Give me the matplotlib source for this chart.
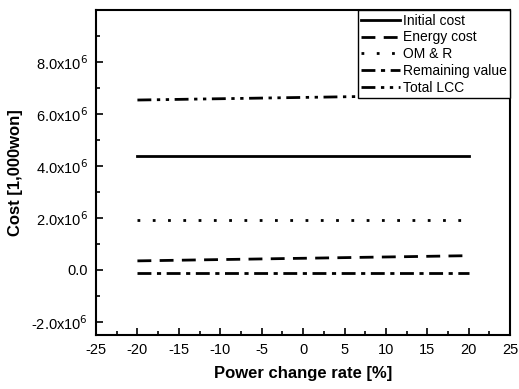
import matplotlib
matplotlib.use("Agg")
import matplotlib.pyplot as plt
from matplotlib.ticker import MultipleLocator, FuncFormatter

plt.rcParams['font.family'] = ['Liberation Sans', 'DejaVu Sans']
plt.rcParams['axes.unicode_minus'] = False

rate = [-20, -17.5, -15, -12.5, -10, -7.5, -5, -2.5, 0, 2.5, 5, 7.5, 10, 12.5, 15, 17.5, 20]
initial = [4.40e6] * 17
energy = [0.35e6, 0.362e6, 0.375e6, 0.388e6, 0.40e6, 0.412e6, 0.425e6, 0.438e6, 0.45e6,
          0.462e6, 0.475e6, 0.488e6, 0.50e6, 0.512e6, 0.525e6, 0.538e6, 0.55e6]
omr = [1.92e6] * 17
remaining = [-0.13e6] * 17
total = [6.54e6, 6.552e6, 6.565e6, 6.578e6, 6.59e6, 6.602e6, 6.615e6, 6.628e6, 6.64e6,
         6.652e6, 6.665e6, 6.678e6, 6.69e6, 6.702e6, 6.715e6, 6.728e6, 6.74e6]

fig = plt.figure(figsize=(5.19, 3.89), dpi=100)
ax = fig.add_axes([0.185, 0.139, 0.798, 0.835])

lw = 2.0
ax.plot(rate, initial, color='black', lw=lw, ls='-', label='Initial cost')
ax.plot(rate, energy, color='black', lw=lw, ls=(0, (5, 3)), label='Energy cost')
ax.plot(rate, omr, color='black', lw=lw, ls=(0, (1, 4.5)), label='OM & R')
ax.plot(rate, remaining, color='black', lw=lw, ls=(0, (5, 2, 1.5, 2)), label='Remaining value')
ax.plot(rate, total, color='black', lw=lw, ls=(0, (5, 2, 1.2, 2, 1.2, 2)), label='Total LCC')

ax.set_xlim(-25, 25)
ax.set_ylim(-2.5e6, 1.0e7)
ax.xaxis.set_major_locator(MultipleLocator(5))
ax.xaxis.set_minor_locator(MultipleLocator(2.5))
ax.yaxis.set_major_locator(MultipleLocator(2e6))
ax.yaxis.set_minor_locator(MultipleLocator(1e6))

def yfmt(v, pos):
    if abs(v) < 1:
        return '0.0'
    if v > 9e6:
        return ''
    m = v / 1e6
    return r'%.1fx10$^{6}$' % m

ax.yaxis.set_major_formatter(FuncFormatter(yfmt))
ax.tick_params(which='both', direction='in', labelsize=10.5, width=1.2)
ax.tick_params(which='major', length=5, pad=6)
ax.tick_params(which='minor', length=3)
for s in ax.spines.values():
    s.set_linewidth(1.5)

ax.set_xlabel('Power change rate [%]', fontsize=12, fontweight='bold', labelpad=6)
ax.set_ylabel('Cost [1,000won]', fontsize=12, fontweight='bold', labelpad=6)

leg = ax.legend(loc='upper right', fontsize=10, frameon=True, fancybox=False, framealpha=1,
                edgecolor='black', borderpad=0.25, labelspacing=0.2, handlelength=2.8,
                handletextpad=0.2, borderaxespad=0.0)
leg.get_frame().set_linewidth(1.0)

fig.savefig('out.png', dpi=100)
